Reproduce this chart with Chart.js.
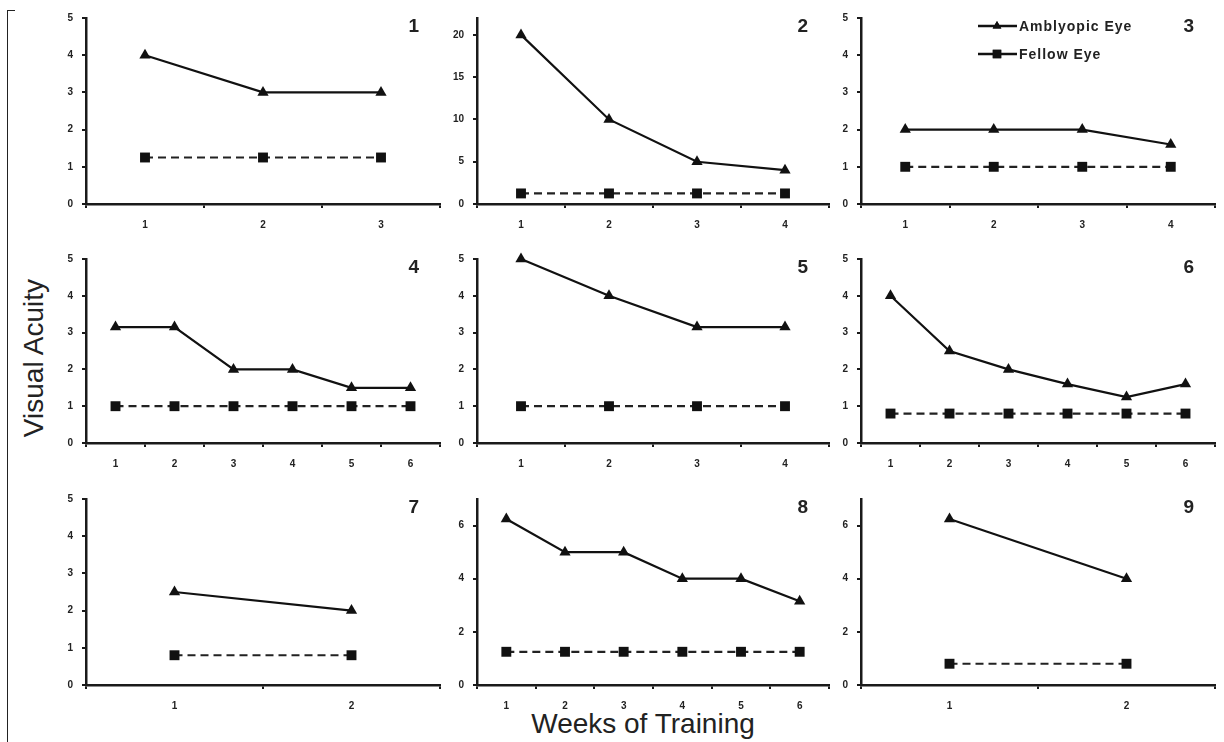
<!DOCTYPE html>
<html>
<head>
<meta charset="utf-8">
<script src="https://cdn.jsdelivr.net/npm/chart.js@4.4.1/dist/chart.umd.min.js"></script>
<style>
  html, body { margin:0; padding:0; background:#fff; }
  body { width:1224px; height:742px; position:relative; overflow:hidden; font-family: Arial, "Liberation Sans", sans-serif; }
  canvas { position:absolute; }
  .ytitle { position:absolute; width:300px; height:34px; line-height:34px; text-align:center; font-size:28px; color:#222; transform:rotate(-90deg); }
  .xtitle { position:absolute; width:400px; height:34px; line-height:34px; text-align:center; font-size:28px; color:#222; }
  .frameV { position:absolute; left:7px; top:10px; width:0; height:740px; border-left:1px solid #222; }
  .frameH { position:absolute; left:7px; top:10px; width:8px; height:0; border-top:1px solid #222; }
</style>
</head>
<body>
<div class="frameV"></div><div class="frameH"></div>
<div class="ytitle" style="left:-116px; top:341px;">Visual Acuity</div>
<div class="xtitle" style="left:443px; top:707px;">Weeks of Training</div>
<script>
// ---- Data ----
const panelLabels = ['1','2','3','4','5','6','7','8','9'];
const seriesNames = ['Amblyopic Eye','Fellow Eye'];

const weeksP1 = ['1','2','3'];
const amblyopicP1 = [4, 3, 3];
const fellowP1 = [1.25, 1.25, 1.25];

const weeksP2 = ['1','2','3','4'];
const amblyopicP2 = [20, 10, 5, 4];
const fellowP2 = [1.25, 1.25, 1.25, 1.25];

const weeksP3 = ['1','2','3','4'];
const amblyopicP3 = [2, 2, 2, 1.6];
const fellowP3 = [1, 1, 1, 1];

const weeksP4 = ['1','2','3','4','5','6'];
const amblyopicP4 = [3.15, 3.15, 2, 2, 1.5, 1.5];
const fellowP4 = [1, 1, 1, 1, 1, 1];

const weeksP5 = ['1','2','3','4'];
const amblyopicP5 = [5, 4, 3.15, 3.15];
const fellowP5 = [1, 1, 1, 1];

const weeksP6 = ['1','2','3','4','5','6'];
const amblyopicP6 = [4, 2.5, 2, 1.6, 1.25, 1.6];
const fellowP6 = [0.8, 0.8, 0.8, 0.8, 0.8, 0.8];

const weeksP7 = ['1','2'];
const amblyopicP7 = [2.5, 2];
const fellowP7 = [0.8, 0.8];

const weeksP8 = ['1','2','3','4','5','6'];
const amblyopicP8 = [6.25, 5, 5, 4, 4, 3.15];
const fellowP8 = [1.25, 1.25, 1.25, 1.25, 1.25, 1.25];

const weeksP9 = ['1','2'];
const amblyopicP9 = [6.25, 4];
const fellowP9 = [0.8, 0.8];

const yAxisMax = [5, 22, 5, 5, 5, 5, 5, 7, 7];
const yAxisStep = [1, 5, 1, 1, 1, 1, 1, 2, 2];

// ---- Layout ----
const colL = [86, 477, 861];
const colR = [443, 832, 1218];
const rowT = [17, 258, 498];
const rowB = [204, 443, 685];

const panels = [
  [weeksP1, amblyopicP1, fellowP1],
  [weeksP2, amblyopicP2, fellowP2],
  [weeksP3, amblyopicP3, fellowP3],
  [weeksP4, amblyopicP4, fellowP4],
  [weeksP5, amblyopicP5, fellowP5],
  [weeksP6, amblyopicP6, fellowP6],
  [weeksP7, amblyopicP7, fellowP7],
  [weeksP8, amblyopicP8, fellowP8],
  [weeksP9, amblyopicP9, fellowP9]
];

const INK = '#111';
const AXIS = '#1a1a1a';
const tickFont = { family: 'Arial, "Liberation Sans", sans-serif', size: 10, weight: 'bold' };

const panelNumberPlugin = {
  id: 'panelNumber',
  afterDraw(chart, args, opts) {
    const ctx = chart.ctx, a = chart.chartArea;
    ctx.save();
    ctx.font = 'bold 19px Arial, "Liberation Sans", sans-serif';
    ctx.fillStyle = '#222';
    ctx.textAlign = 'right';
    ctx.textBaseline = 'alphabetic';
    ctx.fillText(opts.text, a.right - 21, a.top + 14);
    ctx.restore();
  }
};

const customLegendPlugin = {
  id: 'customLegend',
  afterDraw(chart, args, opts) {
    if (!opts.show) return;
    const ctx = chart.ctx, a = chart.chartArea;
    chart.data.datasets.forEach((ds, i) => {
      const y = a.top + 8 + i * 28;
      const x0 = a.left + 117, x1 = a.left + 156, xm = a.left + 136;
      ctx.save();
      ctx.strokeStyle = INK; ctx.lineWidth = 2.5;
      ctx.beginPath(); ctx.moveTo(x0, y); ctx.lineTo(x1, y); ctx.stroke();
      ctx.fillStyle = INK;
      Chart.helpers.drawPoint(ctx, { pointStyle: ds.pointStyle, radius: ds.pointStyle === 'rect' ? 6 : 5, borderWidth: 0 }, xm, y);
      ctx.fill();
      ctx.font = 'bold 14px Arial, "Liberation Sans", sans-serif';
      try { ctx.letterSpacing = '1px'; } catch (e) {}
      ctx.fillStyle = '#222';
      ctx.textAlign = 'left';
      ctx.textBaseline = 'middle';
      ctx.fillText(ds.label, x1 + 2, y + 1);
      ctx.restore();
    });
  }
};

panels.forEach((p, idx) => {
  const c = idx % 3, r = Math.floor(idx / 3);
  const L = colL[c], R = colR[c], T = rowT[r], B = rowB[r];
  const cv = document.createElement('canvas');
  const w = R - L + 64, h = B - T + 44;
  cv.width = w; cv.height = h;
  cv.style.left = (L - 60) + 'px';
  cv.style.top = (T - 14) + 'px';
  cv.style.width = w + 'px'; cv.style.height = h + 'px';
  document.body.appendChild(cv);

  const [weeks, amb, fel] = p;
  new Chart(cv, {
    type: 'line',
    data: {
      labels: weeks,
      datasets: [
        { label: seriesNames[0], data: amb, borderColor: INK, backgroundColor: INK, borderWidth: 2.2,
          pointStyle: 'triangle', pointRadius: 6.5, pointBorderWidth: 0, pointBackgroundColor: INK,
          tension: 0, clip: false },
        { label: seriesNames[1], data: fel, borderColor: '#222', backgroundColor: INK, borderWidth: 2.2,
          borderDash: [8, 5], pointStyle: 'rect', pointRadius: 7, pointBorderWidth: 0, pointBackgroundColor: INK,
          tension: 0, clip: false }
      ]
    },
    options: {
      responsive: false,
      animation: false,
      devicePixelRatio: 1,
      layout: { padding: { top: 14, right: 4, left: 0, bottom: 0 } },
      plugins: {
        legend: { display: false },
        tooltip: { enabled: false },
        panelNumber: { text: panelLabels[idx] },
        customLegend: { show: idx === 2 }
      },
      scales: {
        x: {
          type: 'category',
          offset: true,
          grid: { offset: true, drawOnChartArea: false, drawTicks: true, tickLength: 4, color: AXIS, lineWidth: 2 },
          border: { display: true, color: AXIS, width: 2.5 },
          ticks: { font: tickFont, color: '#222', padding: 11, maxRotation: 0, autoSkip: false },
          afterFit: s => { s.height = 30; }
        },
        y: {
          min: 0, max: yAxisMax[idx],
          grid: { drawOnChartArea: false, drawTicks: true, tickLength: 4, color: AXIS, lineWidth: 2 },
          border: { display: true, color: AXIS, width: 2.5 },
          ticks: { stepSize: yAxisStep[idx], includeBounds: false, font: tickFont, color: '#222', padding: 9 },
          afterFit: s => { s.width = 60; }
        }
      }
    },
    plugins: [panelNumberPlugin, customLegendPlugin]
  });
});
</script>
</body>
</html>
